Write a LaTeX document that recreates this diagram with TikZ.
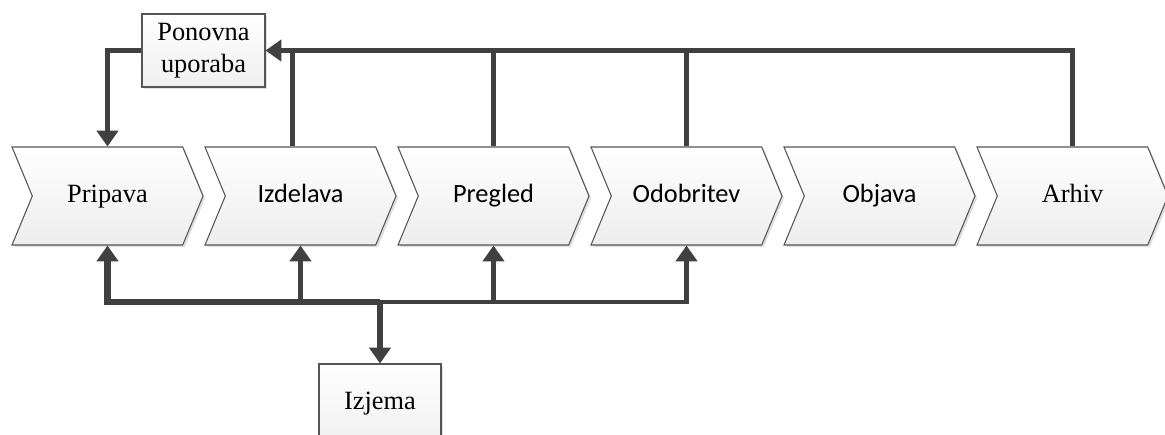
\documentclass[tikz,border=0pt]{standalone}
\usepackage{fontspec}
\setmainfont{Liberation Serif}
\newfontfamily\calfont{Carlito}
\usetikzlibrary{shapes.symbols,arrows.meta,shadows}

\definecolor{linegray}{HTML}{404040}
\definecolor{edgegray}{HTML}{555555}

\begin{document}
\begin{tikzpicture}[
    font=\fontsize{15}{18}\selectfont,
    stage/.style={
        signal,
        signal from=west,
        signal to=east,
        signal pointer angle=135,
        draw=edgegray,
        line width=0.6pt,
        top color=white,
        bottom color=gray!14,
        drop shadow={opacity=0.25, shadow xshift=1.2pt, shadow yshift=-1.2pt},
        minimum width=3.82cm,
        minimum height=1.96cm,
        text height=10pt,
        text depth=3pt,
        inner sep=0pt
    },
    box/.style={
        draw=edgegray,
        line width=0.6pt,
        top color=white,
        bottom color=gray!12,
        drop shadow={opacity=0.25, shadow xshift=1.2pt, shadow yshift=-1.2pt},
        align=center,
        inner sep=0pt
    },
    link/.style={
        draw=linegray,
        line width=2.4pt
    },
    arrow/.style={
        link,
        -{Triangle[length=9pt,width=12pt]}
    },
    thick arrow/.style={
        arrow,
        line width=3.8pt
    }
]
\useasboundingbox (0,0) rectangle (23.3,-8.68);

% stages
\node[stage] (prip) at (2.15,-3.92) {Pripava};
\node[stage] (izd) at (6.01,-3.92) {\calfont Izdelava};
\node[stage] (pre) at (9.87,-3.92) {\calfont Pregled};
\node[stage] (odo) at (13.73,-3.92) {\calfont Odobritev};
\node[stage] (obj) at (17.59,-3.92) {\calfont Objava};
\node[stage] (arh) at (21.45,-3.92) {Arhiv};

% side boxes
\node[box, minimum width=2.46cm, minimum height=1.46cm] (pon) at (4.07,-1.01) {Ponovna\\uporaba};
\node[box, minimum width=2.44cm, minimum height=1.6cm] (izj) at (7.6,-8.08) {Izjema};

% reuse loop
\draw[arrow] (pon.west) -| (prip.north);
\draw[arrow] (arh.north) |- (pon.east);
\draw[link] ([xshift=-0.16cm]izd.north) -- ([xshift=-0.16cm]izd.north |- pon.east);
\draw[link] (pre.north) -- (pre.north |- pon.east);
\draw[link] (odo.north) -- (odo.north |- pon.east);

% exceptions
\coordinate (bus) at (7.6,-6.04);
\draw[thick arrow] (bus) -| (prip.south);
\draw[arrow] (bus) -| (odo.south);
\draw[arrow] (izd.south |- bus) -- (izd.south);
\draw[arrow] (pre.south |- bus) -- (pre.south);
\draw[thick arrow] (bus) -- (izj.north);

\end{tikzpicture}
\end{document}
